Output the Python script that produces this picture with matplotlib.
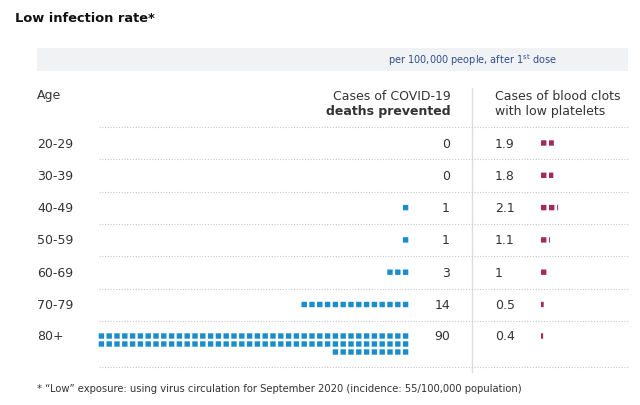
import matplotlib
matplotlib.use("Agg")
import matplotlib.pyplot as plt
from matplotlib.patches import Rectangle

# data
ages = ['20-29', '30-39', '40-49', '50-59', '60-69', '70-79', '80+']
deaths_prevented = [0, 0, 1, 1, 3, 14, 90]
blood_clots = ['1.9', '1.8', '2.1', '1.1', '1', '0.5', '0.4']

BLUE = '#1a8dca'
PURPLE = '#a12b5f'
TXT = '#333333'

fig = plt.figure(figsize=(6.4, 4.05), dpi=100)
ax = fig.add_axes([0, 0, 1, 1])
ax.set_xlim(0, 640)
ax.set_ylim(405, 0)
ax.axis('off')

# title
ax.text(15, 18, 'Low infection rate*', fontsize=9.4, fontweight='bold',
        color='#111111', va='center', ha='left')

# grey band with units
ax.add_patch(Rectangle((37, 48), 591, 23, facecolor='#f1f2f4', edgecolor='none'))
ax.text(557, 60, r'per 100,000 people, after 1$^{\mathrm{st}}$ dose', fontsize=7.0,
        color='#2e4d8c', ha='right', va='center')

# headers
ax.text(37, 96, 'Age', fontsize=9, color=TXT, va='center')
ax.text(451, 96, 'Cases of COVID-19', fontsize=9, color=TXT, ha='right', va='center')
ax.text(451, 111, 'deaths prevented', fontsize=9, color=TXT, ha='right', va='center',
        fontweight='bold')
ax.text(495, 96, 'Cases of blood clots', fontsize=9, color=TXT, va='center')
ax.text(495, 111, 'with low platelets', fontsize=9, color=TXT, va='center')

# vertical separator
ax.plot([472, 472], [88, 372], color='#dddddd', lw=1)

row_h = 32.3
y0 = 143
line_y = [y0 - 16 + i * row_h for i in range(7)] + [367]
for y in line_y:
    ax.plot([99, 628], [y, y], color='#c8c8c8', lw=0.8, ls=(0, (1, 1.5)))

sq = 5.4
pitch = 7.8
per_row = 40
x_right = 408.3

for i, (age, n, clots) in enumerate(zip(ages, deaths_prevented, blood_clots)):
    yc = y0 + i * row_h
    if age == '80+':
        yc = 336
    ax.text(37, yc + 1, age, fontsize=9, color=TXT, va='center')
    ax.text(450, yc + 1, str(n), fontsize=9, color=TXT, ha='right', va='center')
    ax.text(495, yc + 1, clots, fontsize=9, color=TXT, va='center')

    # death prevented squares, right aligned, 40 per row
    left = n
    r = 0
    while left > 0:
        cnt = min(per_row, left)
        for k in range(cnt):
            x = x_right - sq - k * pitch
            ax.add_patch(Rectangle((x, yc - sq / 2 + r * 8), sq, sq,
                                   facecolor=BLUE, edgecolor='none', snap=False))
        left -= cnt
        r += 1

    # blood clots squares, partial widths for fractions
    v = float(clots)
    k = 0
    while v > 1e-9:
        w = min(1.0, v) * sq
        ax.add_patch(Rectangle((541 + k * 8, yc - sq / 2), max(w, 0.9), sq,
                               facecolor=PURPLE, edgecolor='none', snap=False))
        v -= 1.0
        k += 1

# footnote
ax.text(37, 389, '* \u201cLow\u201d exposure: using virus circulation for September 2020 '
        '(incidence: 55/100,000 population)', fontsize=7.2, color=TXT, va='center')

fig.savefig('out.png', dpi=100)
